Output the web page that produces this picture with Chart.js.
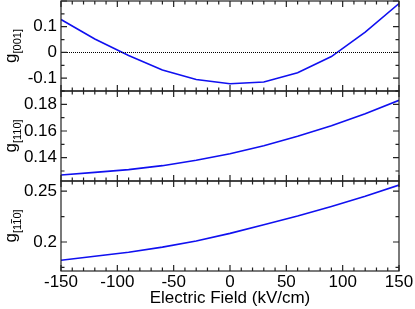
<!DOCTYPE html>
<html>
<head>
<meta charset="utf-8">
<script src="https://cdn.jsdelivr.net/npm/chart.js@4"></script>
<style>
  html, body { margin: 0; padding: 0; background: #fff; }
  #wrap { width: 415px; height: 309px; }
</style>
</head>
<body>
<div id="wrap"><canvas id="chart" width="415" height="309"></canvas></div>
<script>
// electric field (kV/cm)
const fields = [-150, -120, -90, -60, -30, 0, 30, 60, 90, 120, 150];
// g factors
const g001 = [0.128, 0.052, -0.012, -0.068, -0.105, -0.122, -0.115, -0.079, -0.016, 0.079, 0.19];
const g110 = [0.127, 0.129, 0.131, 0.134, 0.138, 0.143, 0.149, 0.156, 0.164, 0.173, 0.183];
const g1b10 = [0.182, 0.186, 0.190, 0.195, 0.201, 0.2085, 0.217, 0.2255, 0.235, 0.245, 0.256];

const xTicks = [-150, -100, -50, 0, 50, 100, 150];
const ticks001 = [-0.1, 0, 0.1];
const ticks110 = [0.14, 0.16, 0.18];
const ticks1b10 = [0.2, 0.25];

const FONT = 'Liberation Sans, Arial, Helvetica, sans-serif';
const LINE = '#1010f0';
const FRAME = '#222';

// panel info for ticks and labels
const panels = [
    { id: 'y1', sub: '[001]', bar: -1, major: 0.1, minor: 0.05 },
    { id: 'y2', sub: '[110]', bar: -1, major: 0.02, minor: 0.01 },
    { id: 'y3', sub: '[110]', bar: 1, major: 0.05, minor: 0.025 }
];

function yAxis(min, max, ticks, weight){
    return {
        type: 'linear',
        position: 'left',
        stack: 'g',
        stackWeight: 1,
        weight: weight,
        min: min,
        max: max,
        grid: { display: false, drawTicks: false },
        border: { display: false },
        ticks: {
            color: '#000',
            padding: 4,
            font: { family: FONT, size: 17 },
            callback: v => String(v)
        },
        afterBuildTicks: s => { s.ticks = ticks.map(v => ({ value: v })); },
        afterFit: s => {
            s.width = 61;
            s.paddingTop = 0;
            s.paddingBottom = 0;
        }
    };
}

const framePlugin = {
    id: 'frame',
    afterDatasetsDraw(chart){
        const ctx = chart.ctx;
        const x = chart.scales.x;
        const left = chart.chartArea.left, right = chart.chartArea.right;
        ctx.save();

        // dotted zero line in the top panel
        const y1 = chart.scales.y1;
        const z = Math.round(y1.getPixelForValue(0)) + 0.5;
        ctx.strokeStyle = '#000';
        ctx.lineWidth = 1;
        ctx.setLineDash([1, 1]);
        ctx.beginPath();
        ctx.moveTo(left, z);
        ctx.lineTo(right, z);
        ctx.stroke();
        ctx.setLineDash([]);

        ctx.strokeStyle = FRAME;
        ctx.lineWidth = 1.2;
        panels.forEach(p => {
            const s = chart.scales[p.id];
            const top = s.top, bot = s.bottom;
            ctx.strokeRect(left, top, right - left, bot - top);

            ctx.beginPath();
            // x ticks on top and bottom edges
            for (let v = -150; v <= 150; v += 10) {
                const px = x.getPixelForValue(v);
                const len = (v % 50 === 0) ? 6 : 3.5;
                ctx.moveTo(px, top); ctx.lineTo(px, top + len);
                ctx.moveTo(px, bot); ctx.lineTo(px, bot - len);
            }
            // y ticks on left and right edges
            const start = Math.ceil(s.min / p.minor - 1e-6);
            const end = Math.floor(s.max / p.minor + 1e-6);
            for (let k = start; k <= end; k++) {
                const v = k * p.minor;
                const py = s.getPixelForValue(v);
                const isMajor = Math.abs(v / p.major - Math.round(v / p.major)) < 1e-6;
                const len = isMajor ? 6 : 3.5;
                ctx.moveTo(left, py); ctx.lineTo(left + len, py);
                ctx.moveTo(right, py); ctx.lineTo(right - len, py);
            }
            ctx.stroke();

            // rotated y title  g[...]
            const yc = (top + bot) / 2;
            ctx.save();
            ctx.translate(16, yc);
            ctx.rotate(-Math.PI / 2);
            ctx.fillStyle = '#000';
            ctx.textBaseline = 'alphabetic';
            ctx.font = '17px ' + FONT;
            const wg = ctx.measureText('g').width;
            ctx.font = '11px ' + FONT;
            const ws = ctx.measureText(p.sub).width;
            const x0 = -(wg + ws) / 2;
            ctx.font = '17px ' + FONT;
            ctx.fillText('g', x0, 0);
            ctx.font = '11px ' + FONT;
            ctx.fillText(p.sub, x0 + wg, 5);
            if (p.bar >= 0) {
                const a = ctx.measureText('[1').width;
                const b = ctx.measureText('[11').width;
                ctx.strokeStyle = '#000';
                ctx.lineWidth = 0.9;
                ctx.beginPath();
                ctx.moveTo(x0 + wg + a + 0.5, 5 - 9.5);
                ctx.lineTo(x0 + wg + b - 0.5, 5 - 9.5);
                ctx.stroke();
            }
            ctx.restore();
        });
        ctx.restore();
    }
};

const ctx = document.getElementById('chart').getContext('2d');
const myChart = new Chart(ctx, {
    type: 'line',
    data: {
        labels: fields,
        datasets: [
            { data: fields.map((f, i) => ({ x: f, y: g001[i] })), yAxisID: 'y1' },
            { data: fields.map((f, i) => ({ x: f, y: g110[i] })), yAxisID: 'y2' },
            { data: fields.map((f, i) => ({ x: f, y: g1b10[i] })), yAxisID: 'y3' }
        ].map(d => Object.assign(d, {
            borderColor: LINE,
            borderWidth: 1.6,
            pointRadius: 0,
            tension: 0,
            fill: false
        }))
    },
    options: {
        responsive: false,
        animation: false,
        layout: { padding: { top: 1, right: 16, left: 0, bottom: 0 } },
        plugins: {
            legend: { display: false },
            tooltip: { enabled: false }
        },
        scales: {
            x: {
                type: 'linear',
                min: -150,
                max: 150,
                grid: { display: false, drawTicks: false },
                border: { display: false },
                ticks: {
                    color: '#000',
                    padding: 1,
                    font: { family: FONT, size: 17 },
                    callback: v => String(v)
                },
                afterBuildTicks: s => { s.ticks = xTicks.map(v => ({ value: v })); },
                title: {
                    display: true,
                    text: 'Electric Field (kV/cm)',
                    color: '#000',
                    font: { family: FONT, size: 17 },
                    padding: { top: 0, bottom: 0 }
                },
                afterFit: s => {
                    s.height = 38;
                    s.paddingLeft = 0;
                    s.paddingRight = 0;
                }
            },
            y1: yAxis(-0.15, 0.2, ticks001, 3),
            y2: yAxis(0.1225, 0.19, ticks110, 2),
            y3: yAxis(0.1715, 0.26, ticks1b10, 1)
        }
    },
    plugins: [framePlugin]
});
</script>
</body>
</html>
